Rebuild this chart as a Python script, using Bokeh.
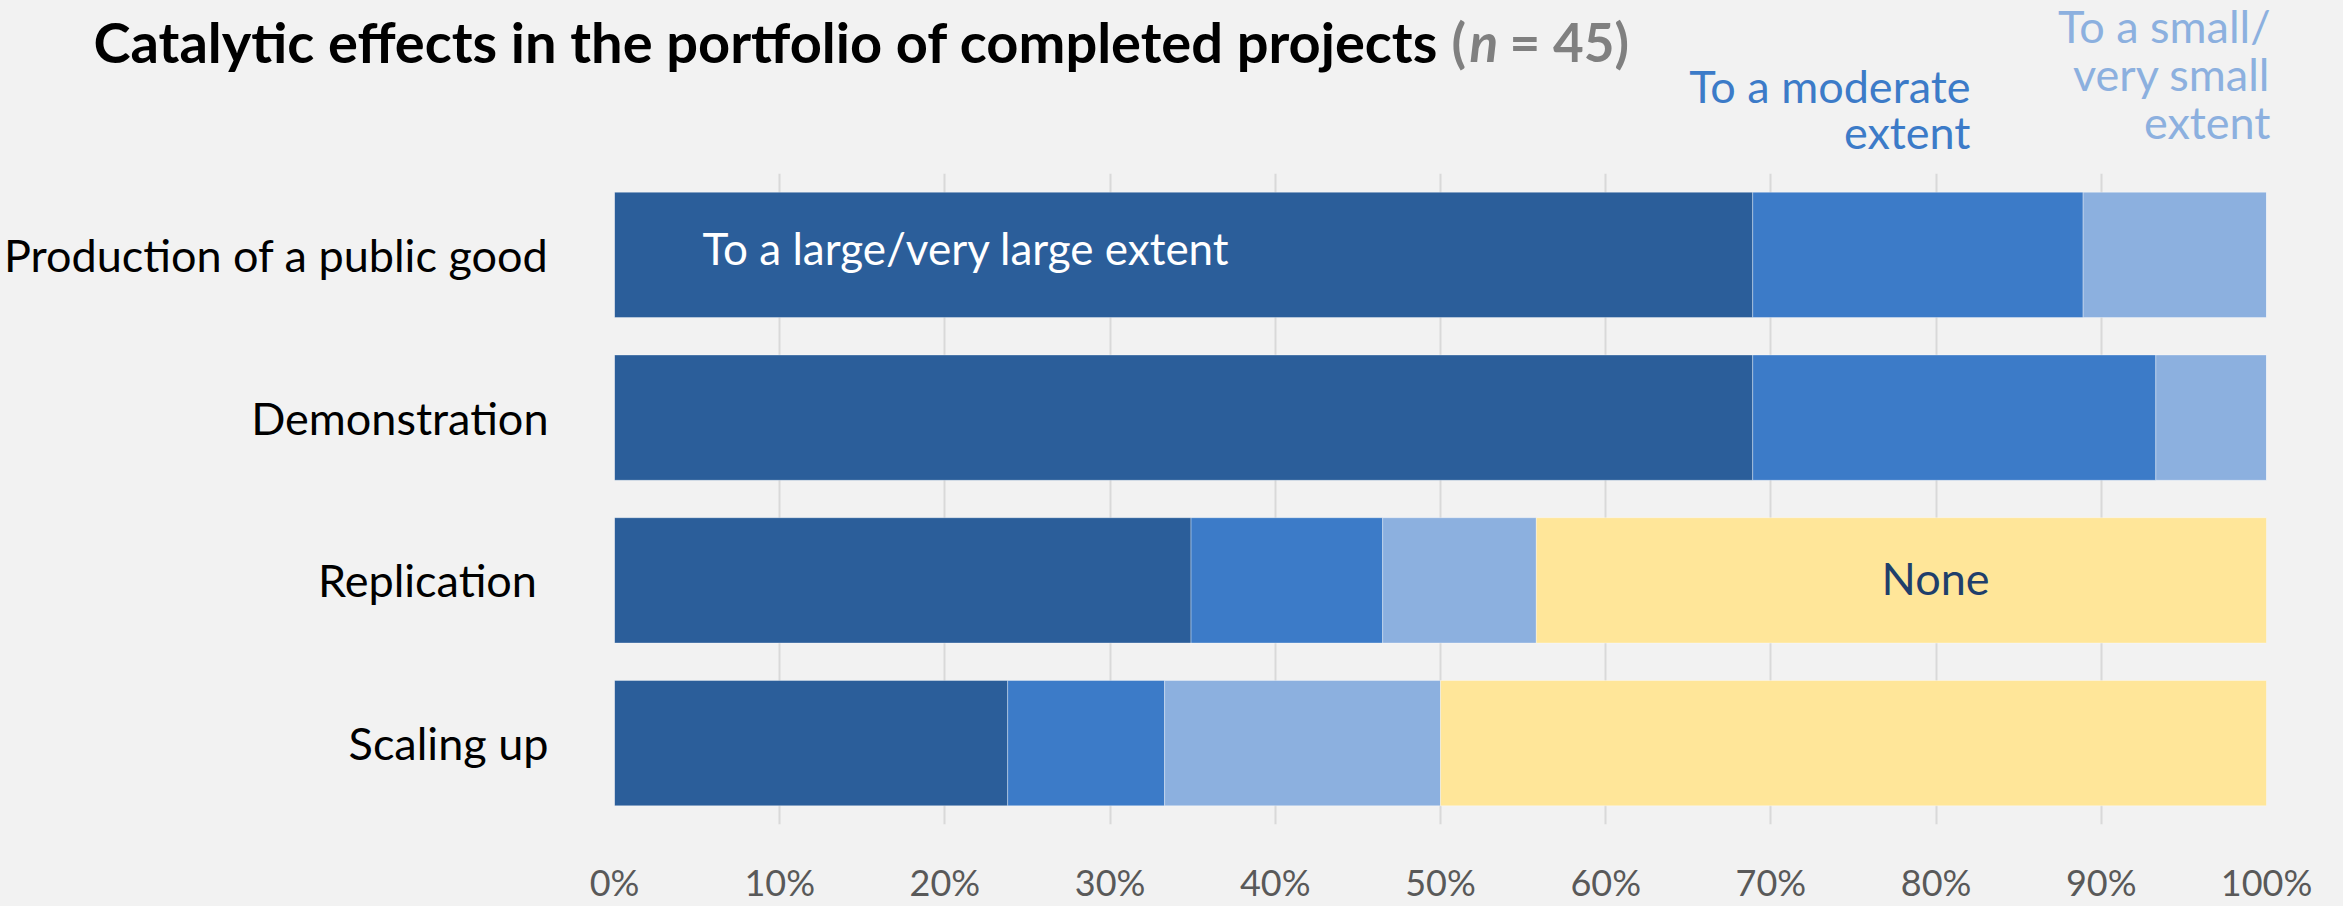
from bokeh.plotting import figure
from bokeh.models import ColumnDataSource, Range1d, FactorRange, Label, CustomJSTickFormatter
from bokeh.embed import file_html
from bokeh.resources import INLINE

# ---- data ----
categories = ["Production of a public good", "Demonstration", "Replication ", "Scaling up"]
large = [68.9, 68.9, 34.9, 23.8]
moderate = [20.0, 24.4, 11.6, 9.5]
small = [11.1, 6.7, 9.3, 16.7]
none = [0.0, 0.0, 44.2, 50.0]
series = ["large", "moderate", "small", "none"]
colors = ["#2B5E9A", "#3C7BC8", "#8CB0DF", "#FFE699"]
tick_values = [0, 10, 20, 30, 40, 50, 60, 70, 80, 90, 100]

FONT = "Lato"
BG = "#F2F2F2"
TOP_H = 173
W, H = 2343, 906
YOFF = -8   # baseline correction inside main frame
TOFF = -16  # baseline correction in header

# ---- header figure (title + legend-like labels) ----
top = figure(width=W, height=TOP_H, output_backend="svg", toolbar_location=None,
             x_range=Range1d(0, W), y_range=Range1d(TOP_H, 0),
             x_axis_type=None, y_axis_type=None,
             min_border=0, min_border_left=0, min_border_right=0, min_border_top=0, min_border_bottom=0,
             background_fill_color=BG, border_fill_color=BG, outline_line_color=None)
top.grid.visible = False

def tlab(px, py, text, color, size, align="left", style="normal"):
    top.add_layout(Label(x=px, y=py + TOFF, text=text, text_color=color, text_font=FONT,
                         text_font_size=size, text_align=align, text_baseline="alphabetic",
                         text_font_style=style))

tlab(93, 57, "Catalytic effects in the portfolio of completed projects", "black", "56px", style="bold")
tlab(1451, 57, "(", "#808080", "53px", style="bold")
tlab(1469, 57, "n", "#808080", "53px", style="bold italic")
tlab(1509, 57, "= 45)", "#808080", "53px", style="bold")

tlab(1970, 101.7, "To a moderate", "#3C7BC8", "45px", align="right")
tlab(1970, 147, "extent", "#3C7BC8", "45px", align="right")
tlab(2270, 41, "To a small/", "#8CB0DF", "45px", align="right")
tlab(2270, 89, "very small", "#8CB0DF", "45px", align="right")
tlab(2270, 137, "extent", "#8CB0DF", "45px", align="right")

# ---- main chart ----
src = ColumnDataSource(dict(cat=categories, large=large, moderate=moderate, small=small, none=none))

p = figure(width=W, height=H - TOP_H, output_backend="svg", toolbar_location=None,
           x_range=Range1d(0, 100), y_range=FactorRange(factors=list(reversed(categories))),
           min_border_left=614, min_border_right=77, min_border_top=0, min_border_bottom=72,
           background_fill_color=BG, border_fill_color=BG, outline_line_color=None)

p.hbar_stack(series, y="cat", height=0.77, color=colors, source=src,
             line_color="white", line_alpha=0.35, line_width=1)

p.xaxis.ticker = tick_values
p.xaxis.formatter = CustomJSTickFormatter(code="return tick + '%';")
p.xaxis.axis_line_color = None
p.xaxis.major_tick_line_color = None
p.xaxis.minor_tick_line_color = None
p.xaxis.major_label_text_font = FONT
p.xaxis.major_label_text_font_size = "36px"
p.xaxis.major_label_text_color = "#595959"
p.xaxis.major_label_standoff = 29

p.yaxis.axis_line_color = None
p.yaxis.major_tick_line_color = None
p.yaxis.minor_tick_line_color = None
p.yaxis.major_label_text_font = FONT
p.yaxis.major_label_text_font_size = "45px"
p.yaxis.major_label_text_color = "black"
p.yaxis.major_label_standoff = 60

p.xgrid.grid_line_color = "#D9D9D9"
p.xgrid.grid_line_width = 2
p.ygrid.grid_line_color = None

FL, FB = 614, 834 - TOP_H  # frame left / bottom in this figure's px

def lab(px, py, text, color, size, align="left"):
    p.add_layout(Label(x=px - FL, y=FB - (py - TOP_H) - YOFF, x_units="screen", y_units="screen",
                       text=text, text_color=color, text_font=FONT,
                       text_font_size=size, text_align=align, text_baseline="alphabetic"))

lab(702, 265, "To a large/very large extent", "white", "44px")
lab(1935, 595, "None", "#1F3F6B", "45px", align="center")

html = file_html([top, p], INLINE)
html = html.replace("<head>", "<head><style>body{margin:0;background:%s;}</style>" % BG, 1)
open("out.html", "w").write(html)
